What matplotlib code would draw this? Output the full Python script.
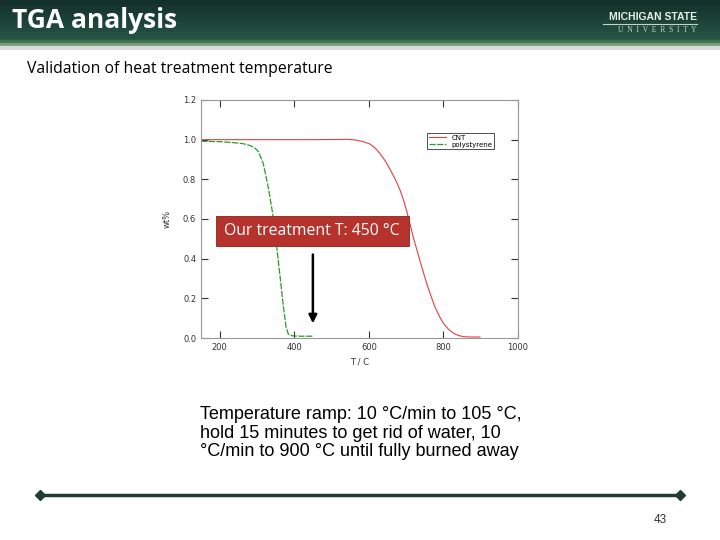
import matplotlib
matplotlib.use("Agg")
import matplotlib.pyplot as plt
import numpy as np
from matplotlib.patches import Rectangle
from matplotlib.lines import Line2D

# TGA curves (T in degC, weight fraction)
ps_temp = [150, 200, 237, 262, 277, 292, 304, 317, 330, 342, 353, 362, 371, 378, 384, 392, 402, 420, 450]
ps_wt = [0.992, 0.99, 0.985, 0.98, 0.973, 0.962, 0.94, 0.88, 0.763, 0.63, 0.46, 0.31, 0.158, 0.057, 0.02, 0.012, 0.01, 0.009, 0.009]

cnt_temp = [150, 300, 450, 520, 545, 565, 585, 603, 617, 630, 644, 657, 671, 684, 694, 703, 719, 737, 755, 766, 777, 789, 800, 813, 827, 840, 853, 870, 898]
cnt_wt = [1.0, 1.0, 1.0, 1.001, 1.002, 0.998, 0.99, 0.978, 0.958, 0.93, 0.893, 0.85, 0.8, 0.745, 0.69, 0.63, 0.51, 0.39, 0.276, 0.215, 0.158, 0.11, 0.074, 0.045, 0.024, 0.013, 0.007, 0.005, 0.005]

x_ticks = [200, 400, 600, 800, 1000]
y_ticks = [0.0, 0.2, 0.4, 0.6, 0.8, 1.0, 1.2]

treatment_T = 450
ramp_note = ("Temperature ramp: 10 \u00b0C/min to 105 \u00b0C,\n"
             "hold 15 minutes to get rid of water, 10\n"
             "\u00b0C/min to 900 \u00b0C until fully burned away")

W, H = 720, 540
fig = plt.figure(figsize=(7.2, 5.4), dpi=100)
fig.patch.set_facecolor("white")

# header bar with vertical gradient
hdr = fig.add_axes([0, 1 - 50 / H, 1, 50 / H])
hdr.set_xlim(0, W)
hdr.set_ylim(50, 0)
hdr.axis("off")
grad = np.linspace(0, 1, 40).reshape(-1, 1)
cmap = matplotlib.colors.LinearSegmentedColormap.from_list("hdr", ["#13302a", "#255545"])
hdr.imshow(grad, cmap=cmap, extent=[0, W, 40, 0], aspect="auto")
hdr.add_patch(Rectangle((0, 40), W, 3, color="#3f6f52"))
hdr.add_patch(Rectangle((0, 43), W, 3, color="#7a9a72"))
hdr.add_patch(Rectangle((0, 46), W, 4, color="#d8dcd8"))
hdr.text(12, 21, "TGA analysis", color="white", fontsize=19, fontweight="bold",
         family="Open Sans", va="center", ha="left")
hdr.text(697, 17, "MICHIGAN STATE", color="#e8efe8", fontsize=7.5, fontweight="bold",
         family=["Liberation Sans Narrow", "Liberation Sans"], va="center", ha="right")
hdr.plot([603, 697], [24, 24], color="#c8d4c8", lw=0.8)
hdr.text(697, 30, "U  N  I  V  E  R  S  I  T  Y", color="#c8d4c8", fontsize=5.5,
         family="Liberation Serif", va="center", ha="right")

fig.text(27 / W, 1 - 69 / H, "Validation of heat treatment temperature",
         fontsize=11.3, family="Open Sans", va="center", ha="left")

# TGA plot
ax = fig.add_axes([201 / W, 1 - 338 / H, 317 / W, 238 / H])
ax.plot(cnt_temp, cnt_wt, color="#e04040", lw=0.8, label="CNT")
ax.plot(ps_temp, ps_wt, color="#2a9a2a", lw=0.9, ls=(0, (5, 1.2)), label="polystyrene")
ax.set_xlim(150, 1000)
ax.set_ylim(0, 1.2)
ax.set_xticks(x_ticks)
ax.set_yticks(y_ticks)
ax.set_yticklabels([f"{v:.1f}" for v in y_ticks])
ax.tick_params(direction="in", length=5, width=0.8, labelsize=6, colors="#333333",
               top=True, right=True)
for s in ax.spines.values():
    s.set_color("#999999")
    s.set_linewidth(0.8)
ax.set_xlabel("T / C", fontsize=6, color="#333333")
ax.set_ylabel("wt%", fontsize=6, color="#333333", labelpad=8)
leg = ax.legend(loc="upper right", bbox_to_anchor=(0.924, 0.861), fontsize=5,
                frameon=True, fancybox=False, borderpad=0.25, handlelength=2.4,
                labelspacing=0.1, borderaxespad=0)
leg.get_frame().set_edgecolor("black")
leg.get_frame().set_linewidth(0.6)

ax.annotate("", xy=(treatment_T, 0.06), xytext=(treatment_T, 0.435),
            arrowprops=dict(arrowstyle="-|>", color="black", lw=1.8,
                            mutation_scale=12))

# red callout box (figure coordinates)
fig.patches.append(Rectangle((216 / W, 1 - 246 / H), 193 / W, 30 / H,
                             transform=fig.transFigure, facecolor="#b5332c",
                             edgecolor="#8a2420", lw=0.6, zorder=5))
fig.text(312 / W, 1 - 231 / H, "Our treatment T: 450 \u00b0C", color="white",
         fontsize=11.3, family="Open Sans", va="center", ha="center", zorder=6)

fig.text(200 / W, 1 - 433 / H, ramp_note, fontsize=13, family="Liberation Sans",
         va="center", ha="left", linespacing=1.12)

# footer rule
fig.add_artist(Line2D([40 / W, 680 / W], [1 - 495 / H] * 2, color="#1f3d33", lw=2.5))
for xe in (40, 680):
    fig.add_artist(Line2D([xe / W], [1 - 495 / H], marker="D", markersize=5,
                          color="#1f3d33"))
fig.text(660 / W, 1 - 520 / H, "43", fontsize=8.5, family="Liberation Sans",
         va="center", ha="center", color="#333333")

fig.savefig("out.png", dpi=100)
